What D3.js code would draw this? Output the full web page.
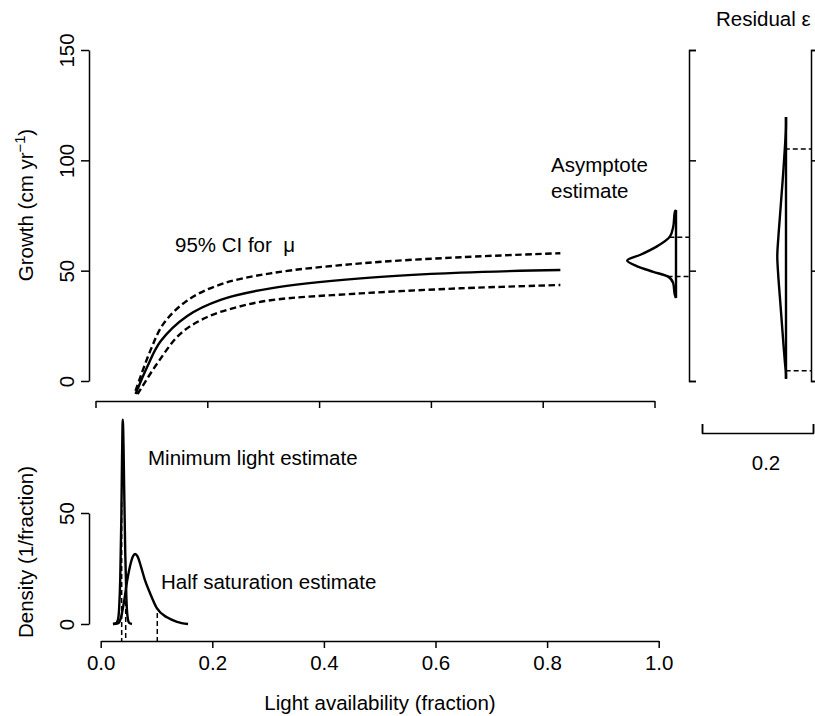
<!DOCTYPE html>
<html><head><meta charset="utf-8">
<script src="https://cdn.jsdelivr.net/npm/d3@7"></script>
<style>
body{margin:0;background:#fff}
svg{display:block}
text{font-family:"Liberation Sans",Arial,Helvetica,sans-serif;fill:#000}
</style>
</head><body>
<svg id="c" width="815" height="716"></svg>
<script>
// ---------- data ----------
const growthTicks = [0, 50, 100, 150];
const lightTicks = [0, 0.2, 0.4, 0.6, 0.8, 1.0];
const lightTickLabels = ["0.0", "0.2", "0.4", "0.6", "0.8", "1.0"];
const densityTicks = [0, 50];

// fitted mean growth curve (mu) and 95% CI
const muLight  = [0.0716, 0.0926, 0.1164, 0.1642, 0.2238, 0.3133, 0.4745, 0.6535, 0.8316];
const muGrowth = [-5.9, 6.5, 18.0, 29.5, 36.8, 42.0, 46.5, 49.1, 50.3];
const ciUpLight  = [0.0716, 0.0985, 0.1218, 0.1642, 0.2238, 0.3133, 0.4745, 0.6535, 0.8316];
const ciUpGrowth = [-4.5, 14.0, 26.0, 36.5, 43.8, 48.8, 53.3, 56.1, 57.9];
const ciLoLight  = [0.0752, 0.1105, 0.1522, 0.2000, 0.2537, 0.3133, 0.4745, 0.6535, 0.8316];
const ciLoGrowth = [-6.0, 8.0, 21.5, 29.0, 33.5, 36.6, 39.7, 42.0, 43.5];

// asymptote posterior density (growth value, density)
const asymValue = [37.6, 39.0, 44.3, 47.3, 49.5, 52.1, 54.6, 57.1, 60.9, 65.4, 69.9, 76.7, 77.5];
const asymDens  = [0.000, 0.002, 0.005, 0.014, 0.041, 0.071, 0.088, 0.065, 0.035, 0.011, 0.005, 0.002, 0.000];
const asymCI = [47.4, 65.2];

// residual density
const residValue = [1, 3, 8, 18, 28, 38, 48, 56.5, 65, 75, 85, 95, 105, 116, 119.6];
const residDens  = [0, 0, 0.0018, 0.0050, 0.0080, 0.0110, 0.0140, 0.0157, 0.0138, 0.0108, 0.0078, 0.0048, 0.0022, 0, 0];
const residCI = [4.7, 105.1];
const densBarValue = 0.2;

// minimum light posterior density
const minLightX    = [0.022, 0.028, 0.031, 0.033, 0.035, 0.037, 0.038, 0.039, 0.0394, 0.040, 0.041, 0.042, 0.044, 0.046, 0.048, 0.051, 0.056];
const minLightDens = [0, 0.5, 2, 7, 20, 48, 70, 88, 92, 90, 79, 62, 32, 12, 3.5, 0.5, 0];
// half saturation posterior density
const halfSatX    = [0.022, 0.031, 0.0364, 0.0418, 0.0471, 0.0525, 0.0579, 0.0615, 0.0660, 0.0720, 0.0790, 0.0883, 0.1009, 0.1188, 0.1367, 0.1565];
const halfSatDens = [0, 0.3, 3, 10, 19, 26, 30.5, 31.5, 30.5, 26, 20, 14, 7, 3, 1, 0];
// CI markers on the light axis
const lightCiX   = [0.0376, 0.0448, 0.1014];
const lightCiTop = [55, 14, 5];

// ---------- drawing ----------
const svg = d3.select("#c");
svg.append("rect").attr("width", 815).attr("height", 716).attr("fill", "#fff");
const FS = 20.5;
const LW = 2.4;

const xTop = d3.scaleLinear().domain([0, 1]).range([95.5, 654.5]);
const yTop = d3.scaleLinear().domain([0, 150]).range([381, 50]);
const xBot = d3.scaleLinear().domain([0, 1]).range([100.7, 658.7]);
const yBot = d3.scaleLinear().domain([0, 50]).range([624, 513]);
const dens = d3.scaleLinear().domain([0, densBarValue]).range([0, 111]);

function styleAxis(g) {
  g.select(".domain").attr("stroke", "#000").attr("stroke-width", 1.5);
  g.selectAll(".tick line").attr("stroke", "#000").attr("stroke-width", 1.5);
  g.selectAll("text").style("font-size", FS + "px").attr("fill", "#000");
}

// top left y axis
const gyTop = svg.append("g").attr("transform", "translate(89,0)")
  .call(d3.axisLeft(yTop).tickValues(growthTicks).tickSize(8).tickSizeOuter(0));
styleAxis(gyTop);
gyTop.selectAll("text").attr("x", null).attr("dy", null).attr("text-anchor", "middle")
  .attr("transform", "translate(-15,0) rotate(-90)");

// middle x axis (no labels)
const gxMid = svg.append("g").attr("transform", "translate(0,401)")
  .call(d3.axisBottom(xTop).tickValues(lightTicks).tickSize(7).tickSizeOuter(0).tickFormat(""));
styleAxis(gxMid);

// bottom y axis
const gyBot = svg.append("g").attr("transform", "translate(89,0)")
  .call(d3.axisLeft(yBot).tickValues(densityTicks).tickSize(8).tickSizeOuter(0));
styleAxis(gyBot);
gyBot.selectAll("text").attr("x", null).attr("dy", null).attr("text-anchor", "middle")
  .attr("transform", "translate(-15,0) rotate(-90)");

// bottom x axis
const gxBot = svg.append("g").attr("transform", "translate(0,641)")
  .call(d3.axisBottom(xBot).tickValues(lightTicks).tickSize(7).tickSizeOuter(0)
    .tickFormat((d, i) => lightTickLabels[i]));
styleAxis(gxBot);
gxBot.selectAll("text").attr("y", 29).attr("dy", null);

// right bracket axes
[689, 811].forEach(x => {
  const g = svg.append("g").attr("transform", `translate(${x},0)`)
    .call(d3.axisRight(yTop).tickValues(growthTicks).tickSize(7).tickSizeOuter(7).tickFormat(""));
  styleAxis(g);
});

// density scale bar
const barScale = d3.scaleLinear().domain([0, densBarValue]).range([702, 813]);
const gBar = svg.append("g").attr("transform", "translate(0,433)")
  .call(d3.axisTop(barScale).tickValues([0, densBarValue]).tickSize(9).tickSizeOuter(9).tickFormat(""));
styleAxis(gBar);
svg.append("text").attr("x", 766).attr("y", 470).attr("text-anchor", "middle")
  .style("font-size", FS + "px").text(String(densBarValue));

// top curves
const zip = (a, b) => a.map((v, i) => [v, b[i]]);
const lineTop = d3.line().x(d => xTop(d[0])).y(d => yTop(d[1])).curve(d3.curveCatmullRom.alpha(0.5));
svg.append("path").attr("d", lineTop(zip(muLight, muGrowth)))
  .attr("fill", "none").attr("stroke", "#000").attr("stroke-width", LW);
[[ciUpLight, ciUpGrowth], [ciLoLight, ciLoGrowth]].forEach(([a, b]) => {
  svg.append("path").attr("d", lineTop(zip(a, b)))
    .attr("fill", "none").attr("stroke", "#000").attr("stroke-width", LW)
    .attr("stroke-dasharray", "6.5,3.5");
});

// side densities
function sideDensity(base, vals, ds, ci, ciEnd) {
  const ln = d3.line().x(d => base - dens(d[1])).y(d => yTop(d[0])).curve(d3.curveMonotoneY);
  svg.append("path").attr("d", ln(zip(vals, ds)))
    .attr("fill", "none").attr("stroke", "#000").attr("stroke-width", LW);
  svg.append("line").attr("x1", base).attr("x2", base)
    .attr("y1", yTop(d3.min(vals))).attr("y2", yTop(d3.max(vals)))
    .attr("stroke", "#000").attr("stroke-width", LW);
  const interp = d3.scaleLinear().domain(vals).range(ds);
  ci.forEach(v => {
    svg.append("line").attr("x1", base - dens(interp(v))).attr("x2", ciEnd)
      .attr("y1", yTop(v)).attr("y2", yTop(v))
      .attr("stroke", "#000").attr("stroke-width", 1.5).attr("stroke-dasharray", "5,3");
  });
}
sideDensity(676, asymValue, asymDens, asymCI, 689);
sideDensity(786, residValue, residDens, residCI, 811);

// bottom densities
const lineBot = d3.line().x(d => xBot(d[0])).y(d => yBot(d[1])).curve(d3.curveMonotoneX);
[[minLightX, minLightDens], [halfSatX, halfSatDens]].forEach(([a, b]) => {
  svg.append("path").attr("d", lineBot(zip(a, b)))
    .attr("fill", "none").attr("stroke", "#000").attr("stroke-width", LW);
});
lightCiX.forEach((x, i) => {
  svg.append("line").attr("x1", xBot(x)).attr("x2", xBot(x))
    .attr("y1", yBot(lightCiTop[i])).attr("y2", 641)
    .attr("stroke", "#000").attr("stroke-width", 1.5).attr("stroke-dasharray", "5,3");
});

// texts
function txt(x, y, s, anchor) {
  return svg.append("text").attr("x", x).attr("y", y).attr("text-anchor", anchor || "start")
    .style("font-size", FS + "px").text(s);
}
txt(716, 26, "Residual ε");
txt(551, 172, "Asymptote");
txt(551, 198, "estimate");
txt(175, 252, "95% CI for  μ").attr("xml:space", "preserve").style("white-space", "pre");
txt(148, 465, "Minimum light estimate");
txt(161, 589, "Half saturation estimate");
txt(380, 710, "Light availability (fraction)", "middle");

const gl = svg.append("text").attr("transform", "translate(33,205) rotate(-90)")
  .attr("text-anchor", "middle").style("font-size", FS + "px");
gl.append("tspan").text("Growth (cm yr");
gl.append("tspan").attr("dy", -8).style("font-size", (FS * 0.72) + "px").text("−1");
gl.append("tspan").attr("dy", 8).text(")");

svg.append("text").attr("transform", "translate(33,552) rotate(-90)")
  .attr("text-anchor", "middle").style("font-size", FS + "px").text("Density (1/fraction)");
</script>
</body></html>
